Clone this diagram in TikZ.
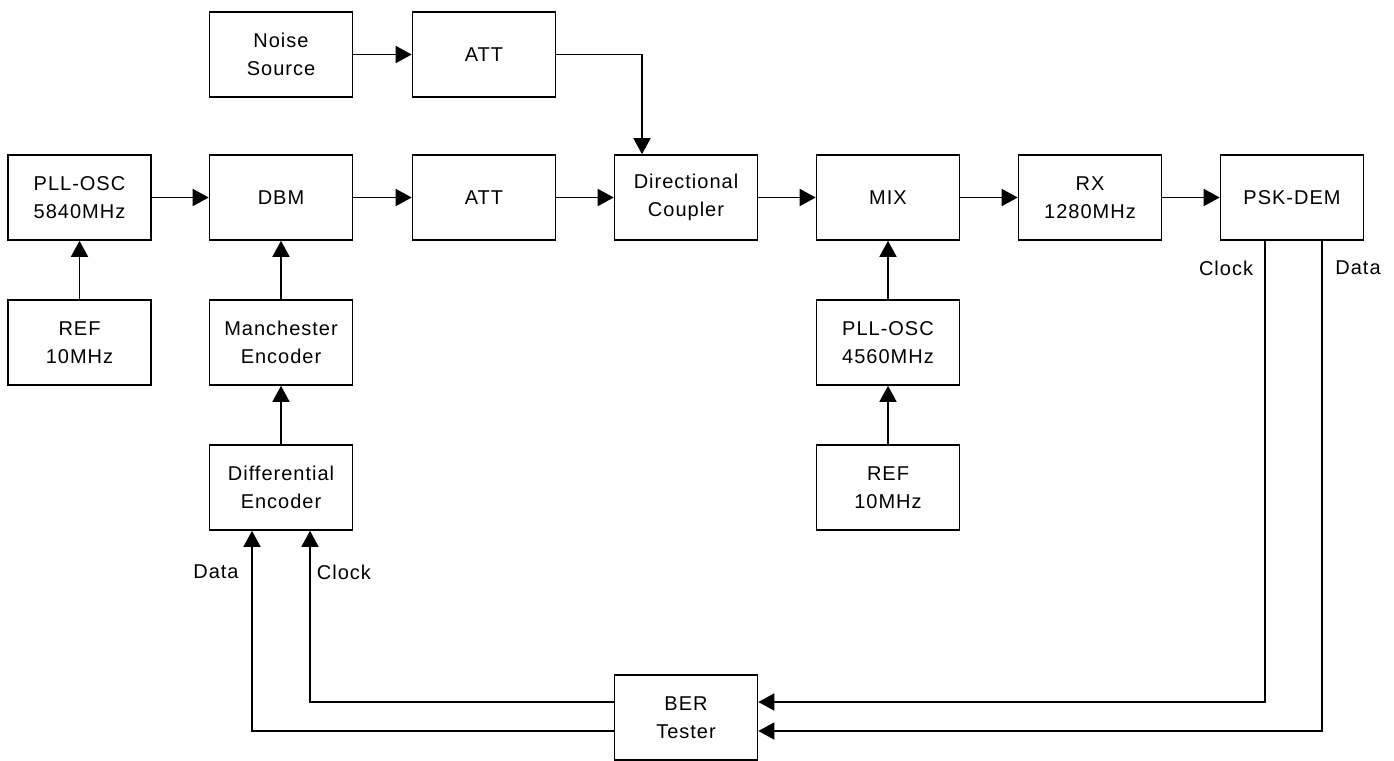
\documentclass[tikz,border=0pt]{standalone}
\usepackage{fontspec}
\setmainfont{Liberation Sans}[LetterSpace=5]
\usetikzlibrary{arrows.meta,calc}
\tikzset{
  blk/.style={draw, line width=1.6pt, minimum width=143pt, minimum height=85pt, inner sep=0pt, align=center, font=\fontsize{20}{28}\selectfont},
  arr/.style={line width=1.6pt, -{Triangle[length=16pt,width=17pt]}},
  wire/.style={line width=1.6pt},
  lbl/.style={inner sep=0pt, font=\fontsize{20}{24}\selectfont}
}
\begin{document}
\begin{tikzpicture}[x=1pt,y=-1pt]
\useasboundingbox (0,0) rectangle (1394,760);
% top row
\node[blk] (noise) at (281,54.5) {Noise\\Source};
\node[blk] (att1) at (484,54.5) {ATT};
% main row
\node[blk] (pll1) at (79.5,197.5) {PLL-OSC\\5840MHz};
\node[blk] (dbm) at (281,197.5) {DBM};
\node[blk] (att2) at (484,197.5) {ATT};
\node[blk] (dc) at (686,197.5) {Directional\\Coupler};
\node[blk] (mix) at (888,197.5) {MIX};
\node[blk] (rx) at (1090,197.5) {RX\\1280MHz};
\node[blk] (psk) at (1292,197.5) {PSK-DEM};
% second row
\node[blk] (ref1) at (79.5,342.5) {REF\\10MHz};
\node[blk] (man) at (281,342.5) {Manchester\\Encoder};
\node[blk] (pll2) at (888,342.5) {PLL-OSC\\4560MHz};
% third row
\node[blk] (diff) at (281,487.5) {Differential\\Encoder};
\node[blk] (ref2) at (888,487.5) {REF\\10MHz};
% bottom
\node[blk] (ber) at (686,717.5) {BER\\Tester};

% connectors
\draw[arr] (noise) -- (att1);
\draw[arr] (att1.east) -| ([xshift=-44pt]dc.north);
\draw[arr] (pll1) -- (dbm);
\draw[arr] (dbm) -- (att2);
\draw[arr] (att2) -- (dc);
\draw[arr] (dc) -- (mix);
\draw[arr] (mix) -- (rx);
\draw[arr] (rx) -- (psk);
\draw[arr] (ref1) -- (pll1);
\draw[arr] (man) -- (dbm);
\draw[arr] (diff) -- (man);
\draw[arr] (pll2) -- (mix);
\draw[arr] (ref2) -- (pll2);

% PSK-DEM to BER tester
\draw[arr] ([xshift=-27pt]psk.south) |- ([yshift=15.5pt]ber.east);
\draw[arr] ([xshift=30pt]psk.south) |- ([yshift=-13.5pt]ber.east);
% BER tester to differential encoder
\draw[arr] ([yshift=15.5pt]ber.west) -| ([xshift=29pt]diff.south);
\draw[arr] ([yshift=-13.5pt]ber.west) -| ([xshift=-29pt]diff.south);

% labels
\node[lbl] (lclk1) at (1226,268) {Clock};
\node[lbl] (ldat1) at (1358,268) {Data};
\node[lbl] (ldat2) at (216,572) {Data};
\node[lbl] (lclk2) at (344,572) {Clock};
\end{tikzpicture}
\end{document}
